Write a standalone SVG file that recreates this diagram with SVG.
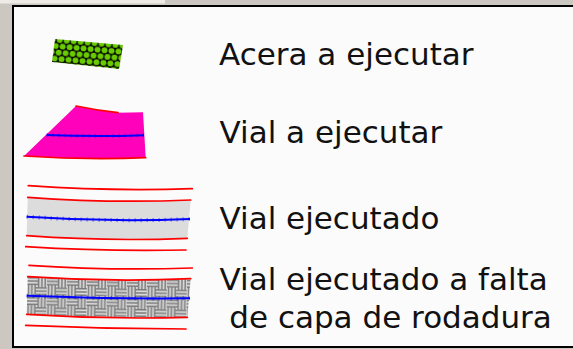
<svg xmlns="http://www.w3.org/2000/svg" width="573" height="349" viewBox="0 0 573 349">
<style>
.lbl{font-family:"DejaVu Sans","Verdana",sans-serif;font-size:31px;fill:#111}
.red{fill:none;stroke:#ff0000;stroke-width:1.7;stroke-linecap:round}
.blue{fill:none;stroke:#0000ff;stroke-width:2}
.tick{fill:none;stroke:#0000ff;stroke-width:4;stroke-dasharray:1 5;opacity:0.6}
</style>
<defs>
<pattern id="hex" patternUnits="userSpaceOnUse" width="7" height="12.6" patternTransform="rotate(5)">
<rect width="7" height="12.6" fill="#000"/>
<circle cx="3.5" cy="3.15" r="3" fill="#6acc00"/>
<circle cx="0" cy="9.45" r="3" fill="#6acc00"/>
<circle cx="7" cy="9.45" r="3" fill="#6acc00"/>
</pattern>
<pattern id="weave" patternUnits="userSpaceOnUse" width="20" height="20" patternTransform="translate(27,276) rotate(1)">
<rect width="20" height="20" fill="#dcdcdc"/>
<g stroke="#7a7a7a" stroke-width="1.5">
<path d="M0,1.7H11M0,5H11M0,8.3H11"/>
<path d="M11.7,0V11M15,0V11M18.3,0V11"/>
<path d="M1.7,9V20M5,9V20M8.3,9V20"/>
<path d="M9,11.7H20M9,15H20M9,18.3H20"/>
</g>
</pattern>
</defs>
<rect width="573" height="349" fill="#cdc7c1"/>
<rect x="0" y="0" width="165" height="3.5" fill="#eeebe7"/>
<rect x="14" y="7" width="559" height="339" fill="#fbfbfb"/>
<path d="M13,348V6H573" fill="none" stroke="#000" stroke-width="2"/>
<path d="M12,347H573" fill="none" stroke="#000" stroke-width="2"/>

<g id="acera">
<polygon points="55,39 123,45 119,69 52,62" fill="url(#hex)"/>
<text class="lbl" x="219" y="65">Acera a ejecutar</text>
</g>

<g id="vial-a-ejecutar">
<path d="M76,106 Q98,110.5 118,112.7 L143,112.3 L145.7,157.7 Q85,160 24,156 Z" fill="#ff00bb"/>
<path class="red" d="M76,106 Q98,110.5 118,112.7"/>
<path class="red" d="M24,156 Q85,160 145.7,157.7"/>
<path class="blue" d="M46.7,135 Q95,137 144,135.2"/>
<path class="tick" d="M46.7,135 Q95,137 144,135.2"/>
<text class="lbl" x="219.5" y="143">Vial a ejecutar</text>
</g>

<g id="vial-ejecutado">
<path d="M27.7,197.3 Q110,203.4 190.7,200 L187.3,238.3 Q107,241.6 26.7,235.7 Z" fill="#dcdcdc"/>
<path class="red" d="M28.3,185.7 Q110,191.4 192.3,188.7"/>
<path class="red" d="M27.7,197.3 Q110,203.4 190.7,200"/>
<path class="red" d="M26.7,235.7 Q107,241.6 187.3,238.3"/>
<path class="red" d="M25.7,246.7 Q106,251.7 186,250"/>
<path class="blue" d="M26.7,216.7 Q108,222.2 190,219"/>
<path class="tick" d="M26.7,216.7 Q108,222.2 190,219"/>
<text class="lbl" x="219.5" y="229">Vial ejecutado</text>
</g>

<g id="vial-ejecutado-falta">
<path d="M27.7,276.7 Q110,282.3 190.7,278.7 L187.3,317.3 Q107,319.6 26.7,314.3 Z" fill="url(#weave)"/>
<path class="red" d="M29,265.3 Q110,270.8 192.3,268"/>
<path class="red" d="M27.7,276.7 Q110,282.3 190.7,278.7"/>
<path class="red" d="M26.7,314.3 Q107,319.6 187.3,317.3"/>
<path class="red" d="M25.7,325.3 Q106,328.9 186,329"/>
<path class="blue" d="M26.7,295.7 Q108,299 190,298.3"/>
<path class="tick" d="M26.7,295.7 Q108,299 190,298.3"/>
<text class="lbl" x="219.5" y="290">Vial ejecutado a falta</text>
<text class="lbl" x="229.3" y="328">de capa de rodadura</text>
</g>
</svg>
